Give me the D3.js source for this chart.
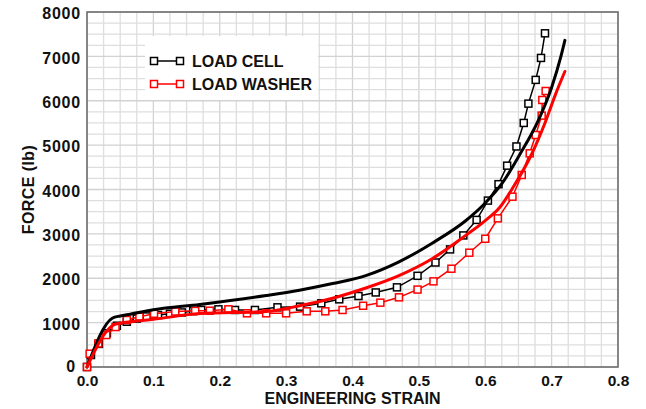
<!DOCTYPE html>
<html>
<head>
<meta charset="utf-8">
<script src="https://cdn.jsdelivr.net/npm/d3@7"></script>
<style>
  html, body { margin: 0; padding: 0; background: #ffffff; }
  svg { display: block; font-family: "Liberation Sans", Arial, Helvetica, sans-serif; font-weight: bold; }
</style>
</head>
<body>
<svg id="chart" width="646" height="409"></svg>
<script>
// Axis ticks
const xTicks = [0.0, 0.1, 0.2, 0.3, 0.4, 0.5, 0.6, 0.7, 0.8];
const yTicks = [0, 1000, 2000, 3000, 4000, 5000, 6000, 7000, 8000];

// Series names
const seriesNames = ["LOAD CELL", "LOAD WASHER"];

// Measured points, load cell: [strain, force lb]
const loadCellPts = [
  [0.000, 0], [0.006, 270], [0.018, 520], [0.030, 760], [0.045, 930], [0.060, 1020],
  [0.075, 1090], [0.090, 1140], [0.107, 1170], [0.125, 1200], [0.143, 1230], [0.160, 1260],
  [0.172, 1285], [0.198, 1300], [0.223, 1285], [0.253, 1285], [0.287, 1345], [0.321, 1360],
  [0.353, 1435], [0.380, 1525], [0.409, 1600], [0.435, 1680], [0.467, 1795], [0.498, 2055],
  [0.525, 2355], [0.547, 2650], [0.567, 2965], [0.587, 3315], [0.604, 3750], [0.620, 4120],
  [0.633, 4537], [0.647, 4970], [0.658, 5500], [0.665, 5935], [0.676, 6470], [0.684, 6965],
  [0.690, 7520]
];

// Measured points, load washer: [strain, force lb]
const loadWasherPts = [
  [0.000, 0], [0.004, 300], [0.017, 530], [0.029, 720], [0.043, 900], [0.060, 1060],
  [0.079, 1133], [0.101, 1200], [0.133, 1250], [0.163, 1265], [0.185, 1269], [0.213, 1300],
  [0.241, 1210], [0.270, 1210], [0.300, 1210], [0.331, 1255], [0.359, 1255], [0.385, 1285],
  [0.416, 1380], [0.442, 1450], [0.470, 1570], [0.498, 1745], [0.522, 1930], [0.549, 2215],
  [0.576, 2576], [0.600, 2890], [0.619, 3350], [0.641, 3838], [0.655, 4327], [0.667, 4815],
  [0.676, 5228], [0.685, 5665], [0.686, 6017], [0.691, 6220]
];

// Model curves: [strain, force lb]
const loadCellCurve = [
  [0.000, 0], [0.038, 1100], [0.050, 1150], [0.065, 1190], [0.100, 1290], [0.170, 1410],
  [0.270, 1610], [0.320, 1730], [0.370, 1880], [0.420, 2060], [0.470, 2370], [0.520, 2790],
  [0.570, 3290], [0.597, 3650], [0.625, 4130], [0.652, 4790], [0.680, 5560], [0.700, 6300],
  [0.714, 7000], [0.720, 7360]
];
const loadWasherCurve = [
  [0.000, 0], [0.042, 960], [0.065, 1020], [0.100, 1075], [0.170, 1205], [0.270, 1250],
  [0.320, 1380], [0.370, 1550], [0.420, 1780], [0.470, 2060], [0.520, 2440], [0.570, 2960],
  [0.600, 3300], [0.622, 3600], [0.642, 4050], [0.670, 4800], [0.690, 5500], [0.706, 6150],
  [0.720, 6660]
];

const colors = ["#000000", "#ff0000"];

const svg = d3.select("#chart");
const plot = { left: 87, right: 618, top: 12, bottom: 367 };

const x = d3.scaleLinear().domain([0, 0.8]).range([plot.left, plot.right]);
const y = d3.scaleLinear().domain([0, 8000]).range([plot.bottom, plot.top]);

// Grid
const grid = svg.append("g");
grid.selectAll("line.vx")
  .data(d3.range(0, 33).map(i => i * 0.025))
  .join("line")
  .attr("x1", d => x(d)).attr("x2", d => x(d))
  .attr("y1", plot.top).attr("y2", plot.bottom)
  .attr("stroke", (d, i) => i % 4 === 0 ? "#d2d2d2" : "#dedede")
  .attr("stroke-width", 1.3);
grid.selectAll("line.hy")
  .data(d3.range(0, 33).map(i => i * 250))
  .join("line")
  .attr("x1", plot.left).attr("x2", plot.right)
  .attr("y1", d => y(d)).attr("y2", d => y(d))
  .attr("stroke", (d, i) => i % 4 === 0 ? "#d2d2d2" : "#dedede")
  .attr("stroke-width", 1.3);

// Legend background
svg.append("rect")
  .attr("x", 145).attr("y", 36).attr("width", 173).attr("height", 64)
  .attr("fill", "#ffffff");

// Frame
svg.append("rect")
  .attr("x", plot.left).attr("y", plot.top)
  .attr("width", plot.right - plot.left).attr("height", plot.bottom - plot.top)
  .attr("fill", "none").attr("stroke", "#707070").attr("stroke-width", 1.6);

// Axes
const xAxis = svg.append("g")
  .attr("transform", `translate(0,${plot.bottom})`)
  .call(d3.axisBottom(x).tickValues(xTicks).tickFormat(d3.format(".1f")).tickSize(0).tickPadding(8));
xAxis.select(".domain").remove();
xAxis.selectAll("text")
  .attr("font-size", 15.5).attr("font-weight", "bold").attr("fill", "#111")
  .attr("font-family", "'Liberation Sans', Arial, sans-serif");

const yAxis = svg.append("g")
  .attr("transform", `translate(${plot.left},0)`)
  .call(d3.axisLeft(y).tickValues(yTicks).tickFormat(d3.format("d")).tickSize(0).tickPadding(6));
yAxis.select(".domain").remove();
yAxis.selectAll("text")
  .attr("font-size", 16).attr("font-weight", "bold").attr("fill", "#111")
  .attr("letter-spacing", "0.8px")
  .attr("dy", "0.42em")
  .attr("font-family", "'Liberation Sans', Arial, sans-serif");
// Nudge the zero label clear of the x-axis "0.0"
yAxis.selectAll(".tick").filter(d => d === 0).select("text")
  .attr("dx", -5).attr("dy", "0.3em");

// Axis titles
svg.append("text")
  .attr("x", (plot.left + plot.right) / 2).attr("y", 404)
  .attr("text-anchor", "middle").attr("font-size", 16).attr("fill", "#111")
  .text("ENGINEERING STRAIN");
svg.append("text")
  .attr("transform", `translate(34,${(plot.top + plot.bottom) / 2}) rotate(-90)`)
  .attr("text-anchor", "middle").attr("font-size", 16).attr("fill", "#111")
  .attr("letter-spacing", "0.4px")
  .text("FORCE (lb)");

// Measured series: lines with open square markers
const lineLin = d3.line().x(d => x(d[0])).y(d => y(d[1]));
const ms = 7;
[loadCellPts, loadWasherPts].forEach((pts, i) => {
  const g = svg.append("g");
  g.append("path").datum(pts)
    .attr("d", lineLin).attr("fill", "none")
    .attr("stroke", colors[i]).attr("stroke-width", 1.5);
  g.selectAll("rect").data(pts).join("rect")
    .attr("x", d => x(d[0]) - ms / 2).attr("y", d => y(d[1]) - ms / 2)
    .attr("width", ms).attr("height", ms)
    .attr("fill", "#ffffff").attr("stroke", colors[i]).attr("stroke-width", 1.5);
});

// Model curves
const lineSmooth = d3.line().curve(d3.curveMonotoneX).x(d => x(d[0])).y(d => y(d[1]));
[loadCellCurve, loadWasherCurve].forEach((pts, i) => {
  svg.append("path").datum(pts)
    .attr("d", lineSmooth).attr("fill", "none")
    .attr("stroke", colors[i]).attr("stroke-width", 3)
    .attr("stroke-linejoin", "round").attr("stroke-linecap", "round");
});

// Legend
const legend = svg.append("g");
seriesNames.forEach((name, i) => {
  const ly = 61 + i * 23;
  legend.append("line")
    .attr("x1", 154).attr("x2", 180).attr("y1", ly).attr("y2", ly)
    .attr("stroke", colors[i]).attr("stroke-width", 1.5);
  [154, 180].forEach(cx => {
    legend.append("rect")
      .attr("x", cx - 3.5).attr("y", ly - 3.5).attr("width", 7).attr("height", 7)
      .attr("fill", "#ffffff").attr("stroke", colors[i]).attr("stroke-width", 1.5);
  });
  legend.append("text")
    .attr("x", 192).attr("y", ly + 5.5)
    .attr("font-size", 16).attr("fill", "#111")
    .text(name);
});
</script>
</body>
</html>
